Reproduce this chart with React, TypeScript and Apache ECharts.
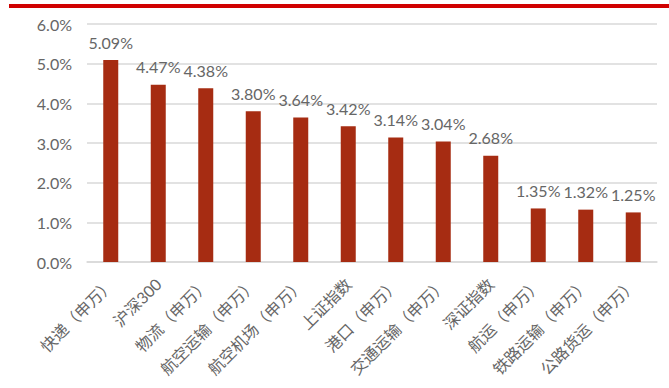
import React, { useEffect, useRef } from "react";
import * as echarts from "echarts";

const categories = [
  "快递（申万）",
  "沪深300",
  "物流（申万）",
  "航空运输（申万）",
  "航空机场（申万）",
  "上证指数",
  "港口（申万）",
  "交通运输（申万）",
  "深证指数",
  "航运（申万）",
  "铁路运输（申万）",
  "公路货运（申万）",
];

const values = [5.09, 4.47, 4.38, 3.8, 3.64, 3.42, 3.14, 3.04, 2.68, 1.35, 1.32, 1.25];

const yTicks = { min: 0, max: 6, interval: 1 };

const FONT = "Lato, 'Noto Sans CJK SC', sans-serif";
const TEXT = "#666666";

export default function App() {
  const ref = useRef<HTMLDivElement>(null);

  useEffect(() => {
    if (!ref.current) return;
    const chart = echarts.init(ref.current, undefined, { renderer: "svg" });
    chart.setOption({
      animation: false,
      backgroundColor: "#ffffff",
      graphic: [
        {
          type: "rect",
          shape: { x: 9, y: 4, width: 660, height: 4 },
          style: { fill: "#d00000" },
        },
      ],
      grid: { left: 87, right: 12, top: 24, bottom: 126 },
      xAxis: {
        type: "category",
        data: categories,
        axisTick: { show: false },
        axisLine: { lineStyle: { color: "#d9d9d9", width: 1.5 } },
        axisLabel: {
          rotate: 45,
          interval: 0,
          margin: 19,
          color: TEXT,
          fontSize: 16,
          fontFamily: FONT,
        },
      },
      yAxis: {
        type: "value",
        min: yTicks.min,
        max: yTicks.max,
        interval: yTicks.interval,
        axisLine: { show: false },
        axisTick: { show: false },
        splitLine: { lineStyle: { color: "#d9d9d9", width: 1.5 } },
        axisLabel: {
          margin: 15,
          color: TEXT,
          fontSize: 16,
          fontFamily: FONT,
          formatter: (v: number) => `${v.toFixed(1)}%`,
        },
      },
      series: [
        {
          type: "bar",
          data: values,
          barWidth: 15,
          itemStyle: { color: "#a62c12" },
          label: {
            show: true,
            position: "top",
            distance: 10,
            color: TEXT,
            fontSize: 16,
            fontFamily: FONT,
            formatter: (p: any) => `${p.value.toFixed(2)}%`,
          },
        },
      ],
    });
    return () => chart.dispose();
  }, []);

  return (
    <div
      ref={ref}
      style={{ position: "fixed", left: 0, top: 0, width: 669, height: 388 }}
    />
  );
}
